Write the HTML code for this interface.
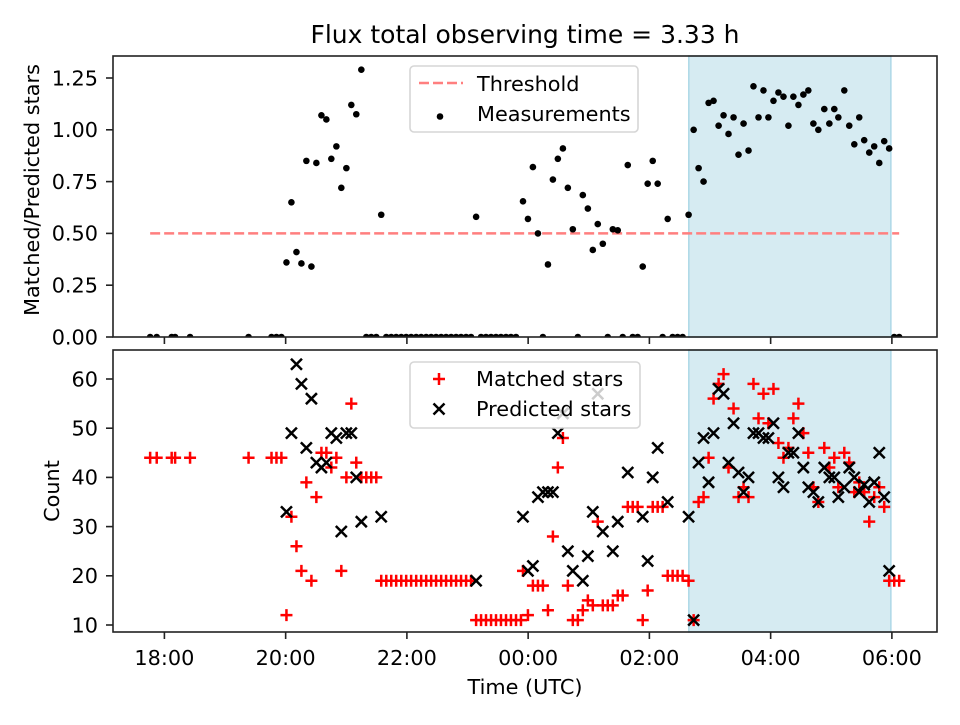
<!DOCTYPE html>
<html><head><meta charset="utf-8"><style>
html,body{margin:0;padding:0;background:#fff;}
svg text{font-family:"DejaVu Sans","Liberation Sans",sans-serif;fill:#000;}
</style></head><body>
<svg id="chart" width="960" height="720" viewBox="0 0 960 720" xmlns="http://www.w3.org/2000/svg">
<rect width="960" height="720" fill="#fff"/>
<text x="525" y="43" font-size="25" text-anchor="middle">Flux total observing time = 3.33 h</text>
<defs>
<clipPath id="clipTop"><rect x="113" y="56" width="824" height="281"/></clipPath>
<clipPath id="clipBot"><rect x="113" y="350" width="824" height="282"/></clipPath>
</defs>
<g id="topPanel"></g>
<g id="botPanel"></g>
<text transform="translate(39,190) rotate(-90)" font-size="20.8" text-anchor="middle">Matched/Predicted stars</text>
<text transform="translate(59,491) rotate(-90)" font-size="20.8" text-anchor="middle">Count</text>
<text x="525" y="694" font-size="20.8" text-anchor="middle">Time (UTC)</text>
</svg>
<script>
// minutes since 18:00 UTC
const xTickMinutes = [0, 120, 240, 360, 480, 600, 720];
const xTickLabels = ["18:00","20:00","22:00","00:00","02:00","04:00","06:00"];
const topTickValues = [0, 0.25, 0.5, 0.75, 1.0, 1.25];
const topTickLabels = ["0.00","0.25","0.50","0.75","1.00","1.25"];
const botTickValues = [10, 20, 30, 40, 50, 60];
const botTickLabels = ["10","20","30","40","50","60"];
const threshold = 0.5;
const windowStart = 519, windowEnd = 719;

const ratioTimes = [-14.1,-7.6,7.2,10.6,25.4,83.3,106,110.9,115.8,120.8,125.7,130.7,135.6,140.5,145.5,150.4,155.4,160.3,165.2,170.2,175.1,180.1,185,189.9,194.9,199.8,204.7,209.7,214.6,
219.6,224.5,229.4,234.4,239.3,244.2,249.2,254.1,259.1,264,268.9,273.9,278.8,283.8,288.7,293.6,298.6,303.5,308.5,313.4,318.3,323.3,328.2,333.1,338.1,343,348,
354.9,359.8,364.7,369.7,374.6,379.6,384.5,389.4,394.4,399.3,404.2,409.2,414.1,419.1,424,428.9,433.9,438.8,443.8,448.7,453.6,458.6,463.5,468.4,473.4,478.3,483.3,488.2,493.1,498.1,503,507.9,512.9,
518.8,523.8,528.7,533.6,538.6,543.5,548.5,553.4,558.3,563.3,568.2,573.2,578.1,583,588,592.9,597.8,602.8,607.7,612.7,617.6,622.5,627.5,632.4,637.3,642.3,647.2,653.1,658.1,663,667,672.9,677.8,682.8,687.7,692.6,697.6,702.5,707.5,712.4,717.3,722.3,727.2];
const ratioValues = [0,0,0,0,0,0,0,0,0,0.36,0.65,0.41,0.355,0.85,0.34,0.84,1.07,1.05,0.86,0.92,0.72,0.815,1.12,1.075,1.29,0,0,0,0.59,
0,0,0,0,0,0,0,0,0,0,0,0,0,0,0,0,0,0,0.58,0,0,0,0,0,0,0,0,
0.655,0.57,0.82,0.50,0,0.35,0.76,0.86,0.91,0.72,0.52,0,0.685,0.62,0.42,0.545,0.45,0,0.52,0.515,0,0.83,0,0,0.34,0.74,0.85,0.74,0,0.57,0,0,0,
0.59,1.00,0.815,0.75,1.13,1.14,1.02,1.07,0.98,1.06,0.88,1.03,0.90,1.21,1.06,1.19,1.06,1.14,1.18,1.16,1.02,1.16,1.12,1.17,1.19,1.03,1.00,1.10,1.03,1.10,1.06,1.19,1.02,0.93,1.06,0.95,0.89,0.92,0.84,0.945,0.91,0,0];

const matchedTimes = [-14.1,-7.6,7.2,10.6,25.4,83.3,106,110.9,115.8,120.8,125.7,130.7,135.6,140.5,145.5,150.4,155.4,160.3,165.2,170.2,175.1,180.1,185,189.9,194.9,199.8,204.7,209.7,
214.6,219.6,224.5,229.4,234.4,239.3,244.2,249.2,254.1,259.1,264,268.9,273.9,278.8,283.8,288.7,293.6,298.6,303.5,
308.5,313.4,318.3,323.3,328.2,333.1,338.1,343,348,352.9,
354.9,359.8,364.7,369.7,374.6,379.6,384.5,389.4,394.4,399.3,404.2,409.2,414.1,419.1,424,428.9,433.9,438.8,443.8,448.7,453.6,458.6,463.5,468.4,473.4,478.3,483.3,488.2,493.1,498.1,503,507.9,512.9,
518.8,523.8,528.7,533.6,538.6,543.5,548.5,553.4,558.3,563.3,568.2,573.2,578.1,583,588,592.9,597.8,602.8,607.7,612.7,617.6,622.5,627.5,632.4,637.3,642.3,647.2,653.1,658.1,663,667,672.9,677.8,682.8,687.7,692.6,697.6,702.5,707.5,712.4,717.3,722.3,727.2];
const matchedValues = [44,44,44,44,44,44,44,44,44,12,32,26,21,39,19,36,45,45,42,44,21,40,55,43,40,40,40,40,
19,19,19,19,19,19,19,19,19,19,19,19,19,19,19,19,19,19,19,
11,11,11,11,11,11,11,11,11,11,
21,12,18,18,18,13,28,42,48,18,11,11,13,15,14,31,14,14,14,16,16,34,34,34,11,17,34,34,34,20,20,20,20,
19,11,35,36,44,56,59,61,42,54,36,38,36,59,52,57,51,58,47,44,46,52,55,49,45,38,35,46,42,44,38,45,43,37,39,37,31,36,38,34,19,19,19];

const predictedTimes = [120.8,125.7,130.7,135.6,140.5,145.5,150.4,155.4,160.3,165.2,170.2,175.1,180.1,185,189.9,194.9,214.6,308.5,
354.9,359.8,364.7,369.7,374.6,379.6,384.5,389.4,394.4,399.3,404.2,414.1,419.1,424,428.9,433.9,443.8,448.7,458.6,473.4,478.3,483.3,488.2,498.1,
518.8,523.8,528.7,533.6,538.6,543.5,548.5,553.4,558.3,563.3,568.2,573.2,578.1,583,588,592.9,597.8,602.8,607.7,612.7,617.6,622.5,627.5,632.4,637.3,642.3,647.2,653.1,658.1,663,667,672.9,677.8,682.8,687.7,692.6,697.6,702.5,707.5,712.4,717.3];
const predictedValues = [33,49,63,59,46,56,43,42,43,49,48,29,49,49,40,31,32,19,
32,21,22,36,37,37,37,49,53,25,21,19,24,33,57,29,25,31,41,32,23,40,46,35,
32,11,43,48,39,49,58,57,43,51,41,37,40,49,49,48,48,51,40,38,45,45,49,42,38,37,35,42,40,40,36,38,42,40,37,38.5,35,39,45,36,21];

const NS = "http://www.w3.org/2000/svg";
function el(tag, attrs, parent) {
  const e = document.createElementNS(NS, tag);
  for (const k in attrs) e.setAttribute(k, attrs[k]);
  parent.appendChild(e);
  return e;
}
const X0 = 113, X1 = 937;
const FS = 20.8;
function xs(m) { return 164.4 + m * 1.0104; }
function yTop(v) { return 337 - v * 207.2; }
function yBot(v) { return 625 - (v - 10) * 4.92; }

const topG = document.getElementById('topPanel');
const botG = document.getElementById('botPanel');

[[topG, 56, 337], [botG, 350, 632]].forEach(([g, y0, y1]) => {
  const r = el('rect', {x: xs(windowStart), y: y0, width: xs(windowEnd) - xs(windowStart), height: y1 - y0, fill: '#add8e6', 'fill-opacity': 0.5, stroke: '#add8e6', 'stroke-width': 1.5}, g);
  
  
});

const th = el('line', {x1: xs(ratioTimes[0]), x2: xs(ratioTimes[ratioTimes.length - 1]), y1: yTop(threshold), y2: yTop(threshold), stroke: '#ff7f7f', 'stroke-width': 2.5, 'stroke-dasharray': '10,4'}, topG);



const tg = el('g', {'clip-path': 'url(#clipTop)'}, topG);


ratioTimes.forEach((t, i) => {
  const c = el('circle', {cx: xs(t), cy: yTop(ratioValues[i]), r: 3.3, fill: '#000'}, tg);
  
  
});

const bg = el('g', {'clip-path': 'url(#clipBot)'}, botG);
const mg = el('g', {}, bg);


matchedTimes.forEach((t, i) => {
  const x = xs(t), y = yBot(matchedValues[i]);
  const p = el('path', {d: `M${x-6},${y}H${x+6}M${x},${y-6}V${y+6}`, stroke: '#ff0000', 'stroke-width': 2.5, fill: 'none'}, mg);
  
  
});
const pg = el('g', {}, bg);


predictedTimes.forEach((t, i) => {
  const x = xs(t), y = yBot(predictedValues[i]);
  const p = el('path', {d: `M${x-5.5},${y-5.5}L${x+5.5},${y+5.5}M${x-5.5},${y+5.5}L${x+5.5},${y-5.5}`, stroke: '#000', 'stroke-width': 2.5, fill: 'none'}, pg);
  
  
});

function frame(g, y0, y1, yfn, vals, labels, showX) {
  const f = el('rect', {x: X0, y: y0, width: X1 - X0, height: y1 - y0, fill: 'none', stroke: '#222', 'stroke-width': 1.6}, g);
  
  
  vals.forEach((v, i) => {
    const y = yfn(v);
    const tk = el('line', {x1: X0 - 7, x2: X0, y1: y, y2: y, stroke: '#222', 'stroke-width': 1.6}, g);
    
    
    const tx = el('text', {x: X0 - 15, y: y + 7.3, 'font-size': FS, 'text-anchor': 'end'}, g);
    tx.textContent = labels[i];
    
    
  });
  xTickMinutes.forEach((m, i) => {
    const x = xs(m);
    const tk = el('line', {x1: x, x2: x, y1: y1, y2: y1 + 7, stroke: '#222', 'stroke-width': 1.6}, g);
    
    
    if (showX) {
      const tx = el('text', {x: x, y: y1 + 33, 'font-size': FS, 'text-anchor': 'middle'}, g);
      tx.textContent = xTickLabels[i];
      
      
    }
  });
}
frame(topG, 56, 337, yTop, topTickValues, topTickLabels, false);
frame(botG, 350, 632, yBot, botTickValues, botTickLabels, true);

function legend(g, x, y, w, h) {
  const r = el('rect', {x: x, y: y, width: w, height: h, rx: 4, fill: '#fff', 'fill-opacity': 0.8, stroke: '#d6d6d6', 'stroke-width': 1.6}, g);
  
  
}
legend(topG, 410, 66, 228, 66);
const lt = el('line', {x1: 419, x2: 463, y1: 83, y2: 83, stroke: '#ff7f7f', 'stroke-width': 2.5, 'stroke-dasharray': '10,4'}, topG);


const lt2 = el('text', {x: 477, y: 91, 'font-size': FS}, topG);
lt2.textContent = 'Threshold';


const lm = el('circle', {cx: 440, cy: 116.5, r: 3.3, fill: '#000'}, topG);


const lm2 = el('text', {x: 477, y: 121, 'font-size': FS}, topG);
lm2.textContent = 'Measurements';



legend(botG, 410, 362, 230, 66);
const bm = el('path', {d: 'M433,379H445M439,373V385', stroke: '#ff0000', 'stroke-width': 2.5}, botG);


const bm2 = el('text', {x: 476, y: 386, 'font-size': FS}, botG);
bm2.textContent = 'Matched stars';


const bp = el('path', {d: 'M433.5,403.5L444.5,414.5M433.5,414.5L444.5,403.5', stroke: '#000', 'stroke-width': 2.5}, botG);


const bp2 = el('text', {x: 476, y: 416, 'font-size': FS}, botG);
bp2.textContent = 'Predicted stars';


</script>
</body></html>
